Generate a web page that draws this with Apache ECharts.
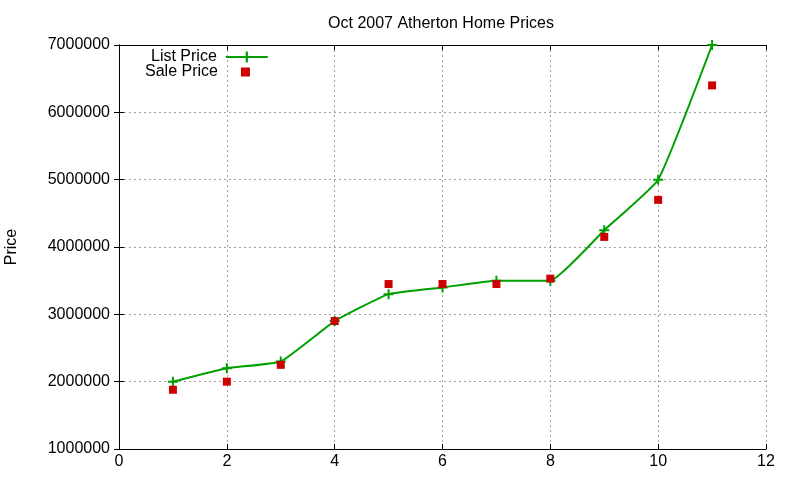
<!DOCTYPE html>
<html>
<head>
<meta charset="utf-8">
<script src="https://cdn.jsdelivr.net/npm/echarts@6/dist/echarts.min.js"></script>
<style>
	html, body { margin: 0; padding: 0; background: #fff; }
	#chart { width: 800px; height: 480px; }
</style>
</head>
<body>
<div id="chart"></div>
<script>
// Dados
const meses = [1, 2, 3, 4, 5, 6, 7, 8, 9, 10, 11];
const precoLista = [2000000, 2200000, 2300000, 2900000, 3300000, 3400000, 3500000, 3500000, 4250000, 5000000, 7000000];
const precoVenda = [1880000, 2000000, 2250000, 2900000, 3450000, 3450000, 3450000, 3530000, 4150000, 4700000, 6400000];

const fonte = 'Liberation Sans, Arial, sans-serif';
const verde = '#00a000';
const vermelho = '#cc0000';
const cruz = 'path://M4,0h2v4h4v2h-4v4h-2v-4h-4v-2h4z';

const grafico = echarts.init(document.getElementById('chart'));

const eixoX = {
	type: 'value',
	min: 0, max: 12, interval: 2,
	axisLine: { show: true, lineStyle: { color: '#000', width: 1 } },
	axisTick: { show: true, inside: true, length: 5, lineStyle: { color: '#000' } },
	splitLine: { show: false }
};
const eixoY = {
	type: 'value',
	min: 1000000, max: 7000000, interval: 1000000,
	axisLine: { show: true, lineStyle: { color: '#000', width: 1 } },
	axisTick: { show: true, inside: true, length: 5, lineStyle: { color: '#000' } },
	splitLine: { show: false }
};
const grade = { show: true, lineStyle: { color: '#a0a0a0', type: [2, 3], width: 1 } };

const option = {
	animation: false,
	backgroundColor: '#fff',
	title: {
		text: 'Oct 2007 Atherton Home Prices',
		left: 436, top: 11, textAlign: 'center',
		textStyle: { fontFamily: fonte, fontSize: 16, fontWeight: 'normal', color: '#000' }
	},
	grid: { left: 119, right: 34, top: 45, bottom: 31, outerBoundsMode: 'none' },
	legend: [
		{
			orient: 'vertical',
			left: 146, top: 44,
			align: 'right',
			itemWidth: 42, itemHeight: 14,
			textStyle: { fontFamily: fonte, fontSize: 16, color: '#000', padding: [0, 4, 0, 0] },
			data: ['List Price']
		},
		{
			orient: 'vertical',
			left: 140, top: 59,
			align: 'right',
			itemWidth: 9, itemHeight: 9,
			textStyle: { fontFamily: fonte, fontSize: 16, color: '#000', padding: [0, 18, 0, 0] },
			data: [{ name: 'Sale Price', icon: 'rect' }]
		}
	],
	xAxis: [
		Object.assign({}, eixoX, {
			position: 'bottom',
			axisLabel: { fontFamily: fonte, fontSize: 16, color: '#000', margin: 5 },
			splitLine: grade
		}),
		Object.assign({}, eixoX, { position: 'top', axisLabel: { show: false } })
	],
	yAxis: [
		Object.assign({}, eixoY, {
			position: 'left',
			name: 'Price',
			nameLocation: 'middle',
			nameGap: 99,
			nameTextStyle: { fontFamily: fonte, fontSize: 16, color: '#000' },
			axisLabel: { fontFamily: fonte, fontSize: 16, color: '#000', margin: 9, formatter: v => String(v) },
			splitLine: grade
		}),
		Object.assign({}, eixoY, { position: 'right', axisLabel: { show: false } })
	],
	series: [
		{
			name: 'List Price',
			type: 'line',
			data: meses.map((m, i) => [m, precoLista[i]]),
			smooth: 0.12,
			symbol: cruz,
			symbolSize: 10,
			showSymbol: true,
			lineStyle: { color: verde, width: 2 },
			itemStyle: { color: verde },
			z: 3
		},
		{
			name: 'Sale Price',
			type: 'scatter',
			data: meses.map((m, i) => [m, precoVenda[i]]),
			symbol: 'rect',
			symbolSize: 8,
			itemStyle: { color: vermelho, opacity: 1 },
			z: 4
		}
	]
};

grafico.setOption(option);
</script>
</body>
</html>
